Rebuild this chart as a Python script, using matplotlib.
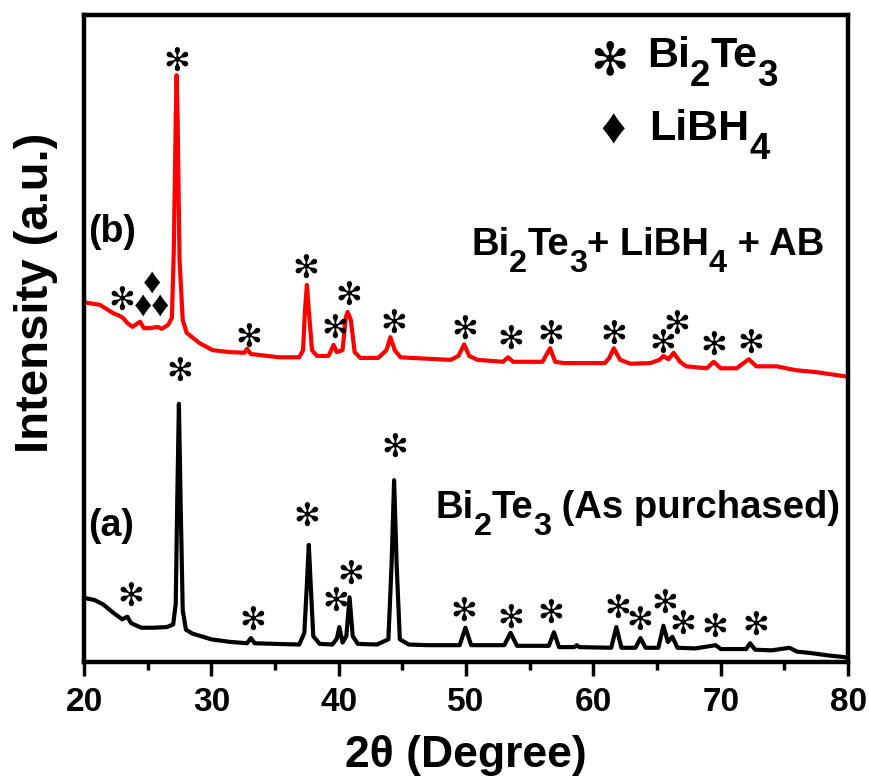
"""
XRD patterns of Bi2Te3 as purchased and after treatment with LiBH4 + AB.
Writes out.png.
"""

import matplotlib
matplotlib.use("Agg")
import matplotlib.pyplot as plt
from matplotlib.ticker import MultipleLocator

# ---------------------------------------------------------------------------
# Data (2-theta in degrees, intensity in arbitrary units, offset traces)
# ---------------------------------------------------------------------------

# (a) Bi2Te3 as purchased
two_theta_a = [
    20.0, 20.8, 21.5, 22.3, 23.0, 23.4, 23.7, 24.5, 25.5, 26.5, 27.0, 27.2,
    27.32, 27.45, 27.58, 27.75, 28.0, 28.5, 30.0, 31.5, 32.8, 33.1, 33.4,
    35.0, 36.9, 37.3, 37.5, 37.65, 37.8, 38.0, 38.5, 39.5, 39.85, 40.05,
    40.3, 40.6, 40.85, 41.1, 41.5, 43.0, 43.9, 44.15, 44.35, 44.55, 44.8,
    45.5, 47.0, 49.5, 49.95, 50.4, 53.0, 53.5, 54.0, 56.5, 56.9, 57.3, 58.5,
    58.7, 58.9, 61.4, 61.8, 62.2, 63.3, 63.7, 64.1, 65.1, 65.5, 65.85, 66.2,
    66.6, 68.0, 69.6, 70.0, 72.0, 72.3, 72.7, 74.0, 75.4, 76.0, 77.0, 78.5,
    80.0,
]
intensity_a = [
    9.9, 9.6, 8.9, 7.6, 6.6, 7.0, 6.0, 5.3, 5.3, 5.4, 5.8, 9.0,
    25.0, 39.9, 25.0, 8.0, 5.0, 4.4, 3.5, 3.1, 2.9, 3.7, 2.9,
    2.8, 2.7, 4.5, 12.0, 18.1, 12.0, 4.0, 2.8, 2.7, 3.6, 5.4,
    3.0, 4.0, 10.0, 4.0, 2.8, 2.7, 3.5, 15.0, 28.1, 15.0, 3.5,
    2.7, 2.6, 2.6, 5.3, 2.6, 2.6, 4.5, 2.5, 2.5, 4.6, 2.3, 2.3,
    2.6, 2.3, 2.2, 5.4, 2.2, 2.2, 3.7, 2.2, 2.2, 5.6, 3.1, 3.9,
    2.2, 2.1, 2.6, 2.0, 2.0, 2.9, 1.9, 1.8, 2.2, 1.6, 1.4, 1.0,
    0.7,
]

# (b) Bi2Te3 + LiBH4 + AB
two_theta_b = [
    20.0, 21.25, 22.3, 22.8, 23.05, 23.4, 23.8, 24.4, 24.7, 25.2, 25.8,
    26.1, 26.6, 26.9, 27.05, 27.2, 27.27, 27.35, 27.5, 27.75, 28.05, 29.06,
    30.1, 31.4, 32.6, 32.8, 33.1, 35.3, 36.9, 37.2, 37.35, 37.5, 37.65,
    37.9, 38.3, 39.2, 39.6, 39.85, 40.3, 40.55, 40.7, 40.95, 41.25, 41.7,
    43.1, 43.75, 44.06, 44.4, 44.85, 45.7, 48.8, 49.4, 49.85, 50.25, 50.9,
    52.9, 53.3, 53.7, 56.0, 56.6, 57.0, 57.7, 60.9, 61.25, 61.6, 62.1,
    62.9, 64.45, 65.2, 65.5, 65.9, 66.3, 66.8, 67.3, 68.9, 69.45, 70.0,
    71.25, 72.2, 72.8, 74.4, 75.9, 77.5, 79.6, 80.0,
]
intensity_b = [
    55.6, 55.2, 53.9, 53.5, 53.2, 52.4, 51.8, 52.6, 51.6, 51.6, 51.8,
    51.5, 52.1, 53.2, 63.7, 83.8, 90.7, 83.8, 62.1, 52.9, 50.9, 49.3,
    48.2, 47.9, 47.8, 48.4, 47.6, 47.1, 47.1, 48.2, 54.4, 58.3, 54.4,
    48.2, 47.3, 47.3, 49.0, 47.9, 48.2, 53.2, 54.1, 52.9, 47.9, 47.0,
    47.0, 48.2, 50.2, 48.2, 47.1, 47.0, 46.7, 47.3, 49.1, 47.3, 46.7,
    46.4, 47.1, 46.4, 46.4, 48.5, 46.4, 46.2, 46.2, 47.0, 48.5, 46.7,
    46.1, 46.2, 46.7, 47.3, 46.8, 47.8, 46.4, 45.7, 45.4, 46.4, 45.4,
    45.4, 46.8, 45.7, 45.7, 45.1, 44.8, 44.2, 44.1,
]

# Bi2Te3 reflections marked on each trace (position, label height)
star_x_a = [23.67, 27.5, 33.28, 37.5, 39.77, 40.94, 44.38, 49.84, 53.52,
            56.64, 61.95, 63.67, 65.63, 67.03, 69.53, 72.73]
star_y_a = [10.0, 44.7, 6.2, 22.3, 9.1, 13.3, 32.9, 7.6, 6.5,
            7.3, 8.0, 6.2, 8.8, 5.6, 5.1, 5.4]

star_x_b = [22.97, 27.27, 32.97, 37.42, 39.69, 40.78, 44.3, 49.92, 53.52,
            56.64, 61.64, 65.47, 66.56, 69.45, 72.34]
star_y_b = [55.6, 92.6, 49.9, 60.6, 51.3, 56.4, 52.1, 51.2, 49.6,
            50.4, 50.4, 49.1, 51.9, 48.7, 49.1]

# LiBH4 reflections on trace (b)
diamond_x = [24.61, 25.31, 25.94]
diamond_y = [55.0, 58.6, 55.0]

x_ticks = [20, 30, 40, 50, 60, 70, 80]

STAR = "\u273b"
DIAMOND = "\u2666"

plt.rcParams["font.family"] = ["Liberation Sans", "DejaVu Sans"]
plt.rcParams["font.weight"] = "bold"


def chem_text(ax, x, y, parts, size, sub_scale=0.85, sub_drop=0.42):
    """Write a formula piece by piece so subscripts stay near full size."""
    first = ax.text(x, y, parts[0][0], fontsize=size, fontweight="bold",
                    ha="left", va="baseline")
    prev = first
    for s, is_sub in parts[1:]:
        fs = size * sub_scale if is_sub else size
        dy = -sub_drop * size if is_sub else 0
        prev = ax.annotate(s, xy=(1, 0), xycoords=(prev, first),
                           xytext=(0, dy), textcoords="offset points",
                           fontsize=fs, fontweight="bold",
                           ha="left", va="bottom")
    return first


fig = plt.figure(figsize=(8.7, 7.78), dpi=100)
ax = fig.add_axes([0.0966, 0.1491, 0.8782, 0.8316])

ax.plot(two_theta_a, intensity_a, color="black", linewidth=3.0,
        solid_joinstyle="round")
ax.plot(two_theta_b, intensity_b, color="#ff0000", linewidth=3.0,
        solid_joinstyle="round")

for xs, ys in ((star_x_a, star_y_a), (star_x_b, star_y_b)):
    for x, y in zip(xs, ys):
        ax.text(x, y, STAR, fontsize=23, ha="center", va="center",
                color="black")
for x, y in zip(diamond_x, diamond_y):
    ax.text(x, y, DIAMOND, fontsize=26, ha="center", va="center",
            color="black")

# trace labels
ax.text(20.3, 64.9, "(b)", fontsize=27, fontweight="bold", va="baseline")
ax.text(20.3, 19.5, "(a)", fontsize=27, fontweight="bold", va="baseline")
chem_text(ax, 50.39, 62.9,
          [("Bi", False), ("2", True), ("Te", False), ("3", True),
           ("+ LiBH", False), ("4", True), (" + AB", False)], 27.5)
chem_text(ax, 47.58, 22.3,
          [("Bi", False), ("2", True), ("Te", False), ("3", True),
           (" (As purchased)", False)], 27.5)

# symbol key
ax.text(61.25, 92.7, STAR, fontsize=33, ha="center", va="center")
chem_text(ax, 64.22, 92.0,
          [("Bi", False), ("2", True), ("Te", False), ("3", True)], 31)
ax.text(61.56, 82.2, DIAMOND, fontsize=36, ha="center", va="center")
chem_text(ax, 64.38, 80.7, [("LiBH", False), ("4", True)], 31)

ax.set_xlim(20, 80)
ax.set_ylim(0, 100)
ax.set_xticks(x_ticks)
ax.xaxis.set_minor_locator(MultipleLocator(5))
ax.set_yticks([])
ax.tick_params(axis="x", which="major", direction="out", length=10,
               width=2.5, labelsize=24, pad=8)
ax.tick_params(axis="x", which="minor", direction="out", length=6,
               width=2.5)
for lab in ax.get_xticklabels():
    lab.set_fontweight("bold")
for spine in ax.spines.values():
    spine.set_linewidth(3.2)

ax.set_xlabel("2\u03b8 (Degree)", fontsize=32, fontweight="bold", labelpad=12)
ax.set_ylabel("Intensity (a.u.)", fontsize=34, fontweight="bold")
ax.yaxis.set_label_coords(-0.034, 0.57)

fig.savefig("out.png", dpi=100)
